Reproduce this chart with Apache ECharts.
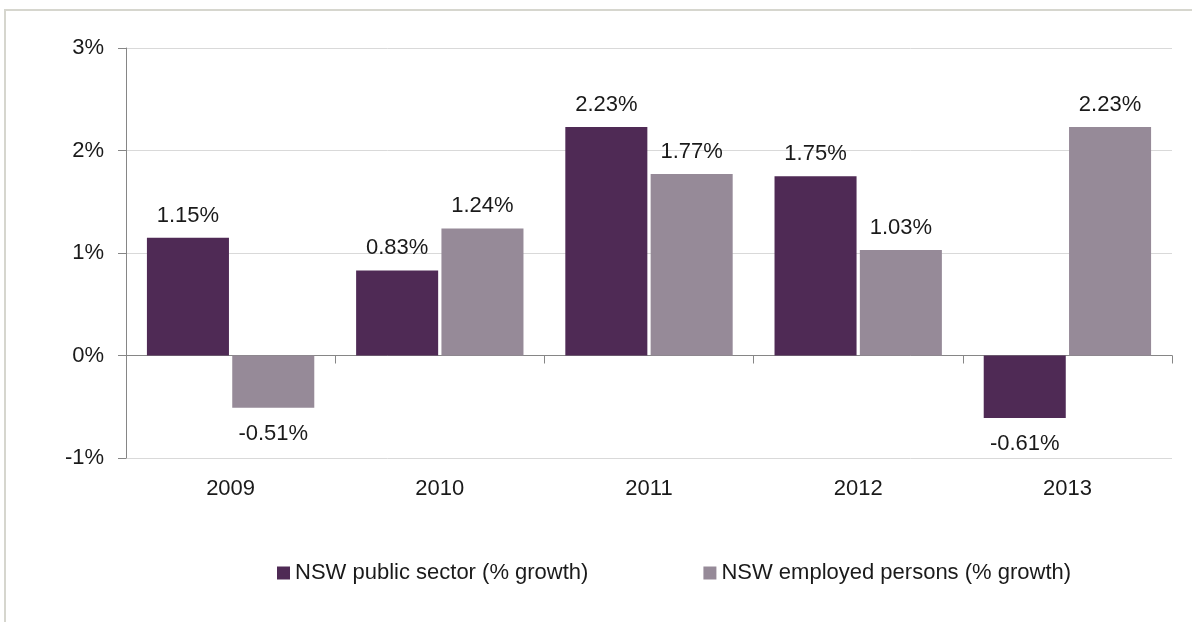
<!DOCTYPE html>
<html>
<head>
<meta charset="utf-8">
<script src="https://cdn.jsdelivr.net/npm/echarts@6/dist/echarts.min.js"></script>
<style>
html,body{margin:0;padding:0;background:#fff;}
#chart{width:1192px;height:622px;}
</style>
</head>
<body>
<div id="chart"></div>
<script>
const categories = ['2009', '2010', '2011', '2012', '2013'];
const seriesNames = ['NSW public sector (% growth)', 'NSW employed persons (% growth)'];
const publicSector = [1.15, 0.83, 2.23, 1.75, -0.61];
const employedPersons = [-0.51, 1.24, 1.77, 1.03, 2.23];
const yMin = -1, yMax = 3, yInterval = 1;

const FONT = '"Liberation Sans", Arial, sans-serif';
const colors = ['#4f2a55', '#968a98'];

function toItems(arr) {
  return arr.map(v => ({
    value: v,
    label: v < 0 ? { position: 'bottom', distance: 15 } : { position: 'top', distance: 11 }
  }));
}

const chart = echarts.init(document.getElementById('chart'), null, { renderer: 'canvas' });
chart.setOption({
  animation: false,
  backgroundColor: '#fff',
  textStyle: { fontFamily: FONT },
  graphic: [{
    type: 'rect', silent: true, z: -10,
    shape: { x: 5, y: 10, width: 1300, height: 800 },
    style: { fill: 'none', stroke: '#d6d6ce', lineWidth: 2 }
  }],
  grid: { left: 126, right: 20, top: 48, bottom: 164, containLabel: false },
  legend: {
    left: 272, top: 557,
    itemWidth: 13, itemHeight: 13, itemGap: 115,
    icon: 'rect',
    textStyle: { fontSize: 22, color: '#1a1a1a', fontFamily: FONT },
    data: seriesNames
  },
  xAxis: [{
    type: 'category', data: categories, position: 'bottom',
    axisLine: { onZero: true, lineStyle: { color: '#868686', width: 1 } },
    axisTick: { show: true, interval: 0, length: 8, lineStyle: { color: '#868686' } },
    axisLabel: { show: false },
    splitLine: { show: false }
  }, {
    type: 'category', data: categories, position: 'bottom',
    axisLine: { show: false, onZero: false },
    axisTick: { show: false },
    axisLabel: { show: true, margin: 20, fontSize: 22, color: '#1a1a1a', fontFamily: FONT },
    splitLine: { show: false }
  }],
  yAxis: {
    type: 'value', min: yMin, max: yMax, interval: yInterval,
    axisLine: { show: true, lineStyle: { color: '#868686' } },
    axisTick: { show: true, length: 8, lineStyle: { color: '#868686' } },
    axisLabel: { formatter: v => v + '%', margin: 22, fontSize: 22, color: '#1a1a1a', fontFamily: FONT },
    splitLine: { show: true, lineStyle: { color: '#d9d9d9', width: 1 } }
  },
  series: [{
    name: seriesNames[0], type: 'bar', xAxisIndex: 0,
    data: toItems(publicSector),
    itemStyle: { color: colors[0] },
    barGap: '4%', barCategoryGap: '20%',
    label: { show: true, fontSize: 22, color: '#1a1a1a', fontFamily: FONT, formatter: p => p.value.toFixed(2) + '%' }
  }, {
    name: seriesNames[1], type: 'bar', xAxisIndex: 0,
    data: toItems(employedPersons),
    itemStyle: { color: colors[1] },
    barGap: '4%', barCategoryGap: '20%',
    label: { show: true, fontSize: 22, color: '#1a1a1a', fontFamily: FONT, formatter: p => p.value.toFixed(2) + '%' }
  }]
});
</script>
</body>
</html>
